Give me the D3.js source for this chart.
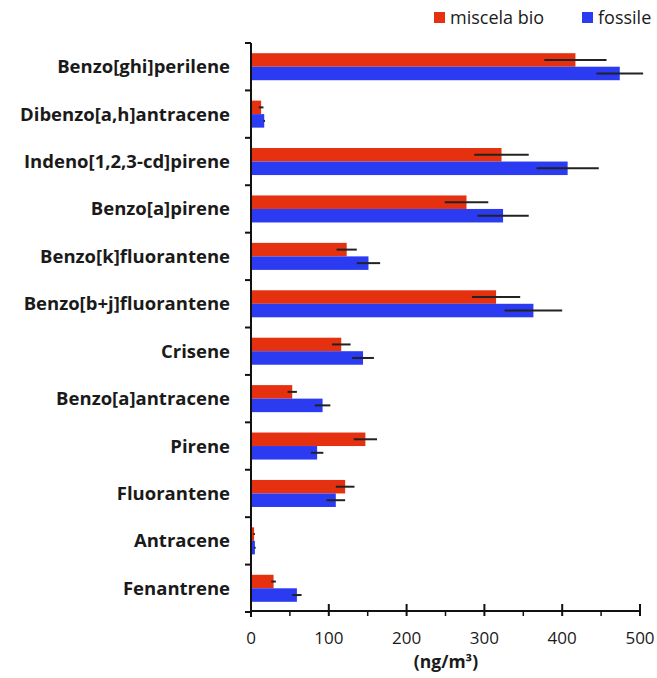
<!DOCTYPE html>
<html>
<head>
<meta charset="utf-8">
<script src="https://cdn.jsdelivr.net/npm/d3@7"></script>
<style>
  body { margin: 0; background: #fff; }
  text { font-family: "Open Sans", sans-serif; fill: #1a1a1a; }
</style>
</head>
<body>
<div id="chart"></div>
<script>
var width = 657;
var height = 678;

// categories, top to bottom
var categories = ["Benzo[ghi]perilene", "Dibenzo[a,h]antracene", "Indeno[1,2,3-cd]pirene",
    "Benzo[a]pirene", "Benzo[k]fluorantene", "Benzo[b+j]fluorantene", "Crisene",
    "Benzo[a]antracene", "Pirene", "Fluorantene", "Antracene", "Fenantrene"];
var seriesNames = ["miscela bio", "fossile"];
var seriesColors = ["#e5310f", "#2a3bf2"];

// values (ng/m3) and error bars
var bioValues = [417, 13, 322, 277, 123, 315, 116, 53, 147, 121, 4, 29];
var bioErrors = [40, 3, 35, 28, 13, 31, 12, 6, 15, 12, 1, 3];
var fosValues = [474, 17, 407, 324, 151, 363, 144, 92, 85, 109, 5, 59];
var fosErrors = [30, 1, 40, 33, 15, 37, 14, 10, 8, 12, 1, 6];

var xTicks = [0, 100, 200, 300, 400, 500];
var xMinorTicks = [50, 150, 250, 350, 450];

var margin = {top: 43, left: 251, right: 17, bottom: 66};

var svg = d3.select("#chart")
    .append("svg")
    .attr("width", width)
    .attr("height", height);

var x = d3.scaleLinear().domain([0, 500]).range([margin.left, width - margin.right]);
var y = d3.scaleBand().domain(categories)
    .range([margin.top, height - margin.bottom])
    .paddingInner(0.43).paddingOuter(0.215);
var sub = d3.scaleBand().domain(seriesNames).range([0, y.bandwidth()]);

// build rows for each series
var rows = [];
categories.forEach(function(c, i){
    rows.push({cat: c, s: 0, v: bioValues[i], e: bioErrors[i]});
    rows.push({cat: c, s: 1, v: fosValues[i], e: fosErrors[i]});
});

// bars
svg.append("g").selectAll("rect")
    .data(rows)
    .enter()
    .append("rect")
    .attr("x", x(0))
    .attr("y", function(d){ return y(d.cat) + sub(seriesNames[d.s]); })
    .attr("width", function(d){ return x(d.v) - x(0); })
    .attr("height", sub.bandwidth())
    .attr("fill", function(d){ return seriesColors[d.s]; });

// error bars
svg.append("g").selectAll("line")
    .data(rows)
    .enter()
    .append("line")
    .attr("x1", function(d){ return x(Math.max(0, d.v - d.e)); })
    .attr("x2", function(d){ return x(d.v + d.e); })
    .attr("y1", function(d){ return y(d.cat) + sub(seriesNames[d.s]) + sub.bandwidth() / 2; })
    .attr("y2", function(d){ return y(d.cat) + sub(seriesNames[d.s]) + sub.bandwidth() / 2; })
    .attr("stroke", "#222")
    .attr("stroke-width", 2);

// y axis line and ticks at category boundaries
var yRange = y.range();
svg.append("line")
    .attr("x1", x(0)).attr("x2", x(0))
    .attr("y1", yRange[0]).attr("y2", yRange[1] + 5)
    .attr("stroke", "#111").attr("stroke-width", 2);

var bounds = categories.map(function(c){ return y(c) - y.step() * y.paddingInner() / 2; });
bounds.push(yRange[1]);
svg.append("g").selectAll("line")
    .data(bounds)
    .enter()
    .append("line")
    .attr("x1", x(0) - 6).attr("x2", x(0))
    .attr("y1", function(d){ return d; }).attr("y2", function(d){ return d; })
    .attr("stroke", "#111").attr("stroke-width", 2);

// category labels
svg.append("g").selectAll("text")
    .data(categories)
    .enter()
    .append("text")
    .attr("x", 230)
    .attr("y", function(d){ return y(d) + y.bandwidth() / 2; })
    .attr("dy", "0.35em")
    .attr("text-anchor", "end")
    .attr("font-size", "18.5px")
    .attr("font-weight", "bold")
    .text(function(d){ return d; });

// x axis
var axisY = yRange[1] - 1;
svg.append("line")
    .attr("x1", x(0)).attr("x2", x(500))
    .attr("y1", axisY).attr("y2", axisY)
    .attr("stroke", "#111").attr("stroke-width", 2);

svg.append("g").selectAll("line")
    .data(xTicks)
    .enter()
    .append("line")
    .attr("x1", function(d){ return x(d); }).attr("x2", function(d){ return x(d); })
    .attr("y1", axisY - 7).attr("y2", axisY + 5)
    .attr("stroke", "#111").attr("stroke-width", 2);

svg.append("g").selectAll("line")
    .data(xMinorTicks)
    .enter()
    .append("line")
    .attr("x1", function(d){ return x(d); }).attr("x2", function(d){ return x(d); })
    .attr("y1", axisY).attr("y2", axisY + 5)
    .attr("stroke", "#111").attr("stroke-width", 1.5);

svg.append("g").selectAll("text")
    .data(xTicks)
    .enter()
    .append("text")
    .attr("x", function(d){ return x(d); })
    .attr("y", 644)
    .attr("text-anchor", "middle")
    .attr("font-size", "17px")
    .text(function(d){ return d; });

svg.append("text")
    .attr("x", 446)
    .attr("y", 668)
    .attr("text-anchor", "middle")
    .attr("font-size", "17.5px")
    .attr("font-weight", "bold")
    .text("(ng/m³)");

// legend
var legend = svg.append("g").attr("transform", "translate(434,12)");
var legendX = [0, 148];
seriesNames.forEach(function(name, i){
    legend.append("rect")
        .attr("x", legendX[i]).attr("y", 0)
        .attr("width", 11).attr("height", 11)
        .attr("fill", seriesColors[i]);
    legend.append("text")
        .attr("x", legendX[i] + 16).attr("y", 5.5)
        .attr("dy", "0.35em")
        .attr("font-size", "18px")
        .text(name);
});
</script>
</body>
</html>
